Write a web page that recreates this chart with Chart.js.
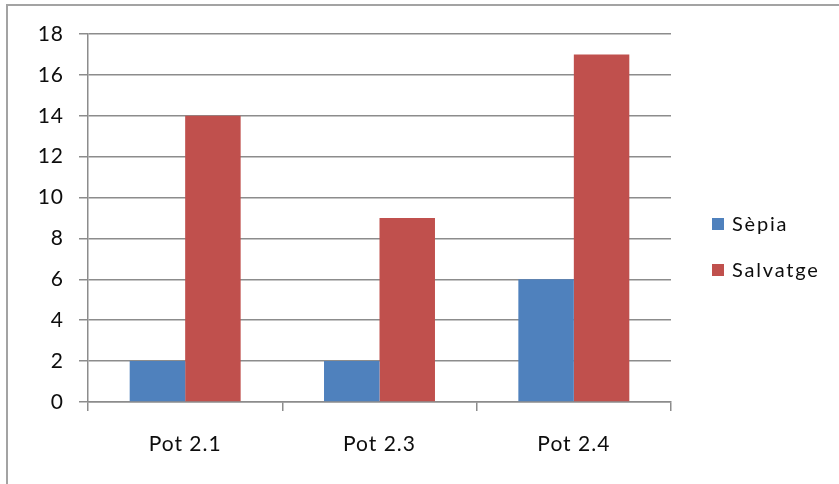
<!DOCTYPE html>
<html>
<head>
<meta charset="utf-8">
<script src="https://cdn.jsdelivr.net/npm/chart.js@4/dist/chart.umd.min.js"></script>
<style>
  html, body { margin: 0; padding: 0; background: #fff; overflow: hidden; }
  #wrap { position: relative; width: 839px; height: 484px; }
  #frame {
    position: absolute; left: 6px; top: 4px; width: 900px; height: 600px;
    border: 2px solid #a3a3a3; box-sizing: border-box;
  }
  canvas { position: absolute; left: 0; top: 0; }
</style>
</head>
<body>
<div id="wrap">
  <div id="frame"></div>
  <canvas id="c" width="839" height="484"></canvas>
</div>
<script>
// Categories, series and axis ticks
const categories = ['Pot 2.1', 'Pot 2.3', 'Pot 2.4'];
const sepia = [2, 2, 6];
const salvatge = [14, 9, 17];
const seriesNames = ['Sèpia', 'Salvatge'];
const yTicks = [0, 2, 4, 6, 8, 10, 12, 14, 16, 18];

const FONT = 'Lato, "Open Sans", sans-serif';
const GRID = '#8c8c8c';
const INK = '#0d0d0d';

// Slightly spaced lettering for all canvas text
const spacing = {
  id: 'spacing',
  beforeDraw(chart) { chart.ctx.letterSpacing = '1px'; }
};

// Legend drawn at the right from the datasets' labels and colours
const sideLegend = {
  id: 'sideLegend',
  afterDraw(chart) {
    const ctx = chart.ctx;
    const ds = chart.data.datasets;
    const x0 = 712, yStart = 224, gap = 46, box = 12;
    ctx.save();
    ctx.letterSpacing = '1.8px';
    ctx.font = '20px ' + FONT;
    ctx.textBaseline = 'middle';
    ctx.textAlign = 'left';
    ds.forEach((d, i) => {
      const y = yStart + i * gap;
      ctx.fillStyle = d.backgroundColor;
      ctx.fillRect(x0, y - box / 2, box, box);
      ctx.fillStyle = INK;
      ctx.fillText(d.label, x0 + box + 8, y + 1);
    });
    ctx.restore();
  }
};

new Chart(document.getElementById('c'), {
  type: 'bar',
  data: {
    labels: categories,
    datasets: [
      { label: seriesNames[0], data: sepia, backgroundColor: '#4f81bd' },
      { label: seriesNames[1], data: salvatge, backgroundColor: '#c0504d' }
    ]
  },
  options: {
    responsive: false,
    animation: false,
    devicePixelRatio: 1,
    layout: { padding: { top: 34, right: 168, left: 0, bottom: 0 } },
    categoryPercentage: 0.571,
    barPercentage: 1.0,
    plugins: { legend: { display: false }, tooltip: { enabled: false } },
    scales: {
      x: {
        afterFit(scale) { scale.height = 82; },
        grid: { offset: true, drawOnChartArea: false, drawTicks: true, tickLength: 9, color: GRID, lineWidth: 1.5 },
        border: { color: GRID, width: 1.5 },
        ticks: { color: INK, font: { family: FONT, size: 21 }, padding: 21 }
      },
      y: {
        min: 0, max: 18,
        afterFit(scale) { scale.width = 88; },
        afterBuildTicks(scale) { scale.ticks = yTicks.map(v => ({ value: v })); },
        grid: { color: GRID, lineWidth: 1.5, tickLength: 9 },
        border: { color: GRID, width: 1.5 },
        ticks: { color: INK, font: { family: FONT, size: 21 }, padding: 15 }
      }
    }
  },
  plugins: [spacing, sideLegend]
});
</script>
</body>
</html>
